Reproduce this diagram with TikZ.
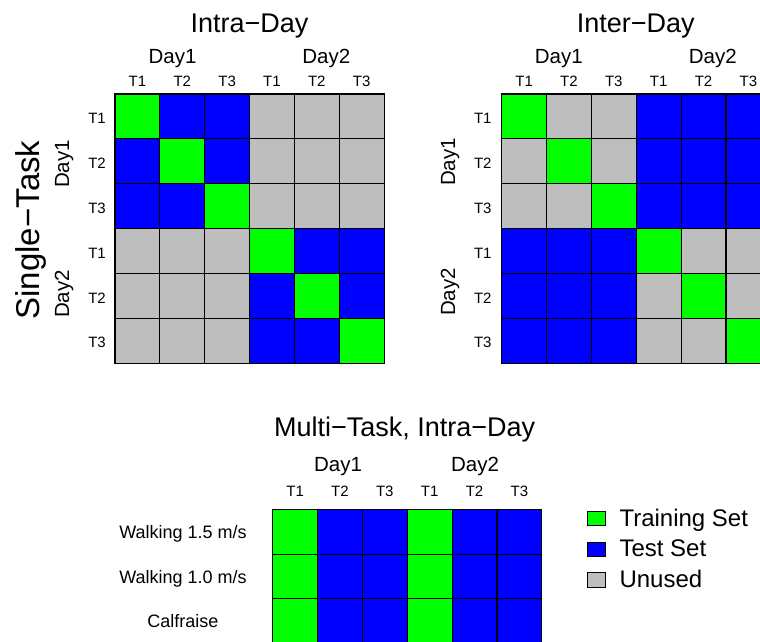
\documentclass[tikz,border=0pt]{standalone}
\usepackage{fontspec}
\setmainfont{Liberation Sans}
\definecolor{trn}{RGB}{0,255,0}
\definecolor{tst}{RGB}{0,0,255}
\definecolor{unu}{RGB}{190,190,190}
\newcommand{\fsz}[1]{\fontsize{#1}{#1}\selectfont}
\tikzset{
  cell/.style={draw=black, line width=1.1pt, minimum width=44.85pt, minimum height=44.9pt,
    inner sep=0pt, outer sep=0pt, anchor=north west},
  ttl/.style={font=\fsz{27}, anchor=base, inner sep=0pt},
  dayl/.style={font=\fsz{20.5}, anchor=base, inner sep=0pt},
  tl/.style={font=\fsz{15}, inner sep=0pt},
  bigl/.style={font=\fsz{33}, anchor=base, rotate=90, inner sep=0pt},
  taskl/.style={font=\fsz{18}, anchor=base, inner sep=0pt},
  legbox/.style={draw=black, line width=0.9pt, minimum width=18pt, minimum height=14.5pt,
    inner sep=0pt, anchor=north west},
  legl/.style={font=\fsz{24}, anchor=base west, inner sep=0pt},
}
\begin{document}
\begin{tikzpicture}[x=1pt,y=-1pt]
\useasboundingbox (0,0) rectangle (760,641);
\clip (0,0) rectangle (760,641);
% ---------- Intra-Day ----------
\foreach \rowc [count=\r] in {{trn,tst,tst,unu,unu,unu},{tst,trn,tst,unu,unu,unu},{tst,tst,trn,unu,unu,unu},
  {unu,unu,unu,trn,tst,tst},{unu,unu,unu,tst,trn,tst},{unu,unu,unu,tst,tst,trn}}{
  \foreach \c [count=\k] in \rowc {
    \node[cell, fill=\c] (A-\r-\k) at ({115+(\k-1)*44.85},{94+(\r-1)*44.9}) {};
  }
}
\node[ttl] (Atitle) at (249.5,32.5) {Intra−Day};
\node[dayl] (Ad1) at (172.5,63.3) {Day1};
\node[dayl] (Ad2) at (326.3,63.3) {Day2};
\foreach \t [count=\k] in {T1,T2,T3,T1,T2,T3}{
  \node[tl, anchor=base] (Ac-\k) at ({115+(\k-0.5)*44.85},86) {\t};
  \node[tl, anchor=base east] (Ar-\k) at (106,{94+(\k-0.5)*44.9+7}) {\t};
}
\node[bigl] (single) at (39,230) {Single−Task};
\node[dayl, rotate=90] (Ard1) at (69,164) {Day1};
\node[dayl, rotate=90] (Ard2) at (69,294) {Day2};
% ---------- Inter-Day ----------
\foreach \rowc [count=\r] in {{trn,unu,unu,tst,tst,tst},{unu,trn,unu,tst,tst,tst},{unu,unu,trn,tst,tst,tst},
  {tst,tst,tst,trn,unu,unu},{tst,tst,tst,unu,trn,unu},{tst,tst,tst,unu,unu,trn}}{
  \foreach \c [count=\k] in \rowc {
    \node[cell, fill=\c] (B-\r-\k) at ({501.7+(\k-1)*44.85},{94+(\r-1)*44.9}) {};
  }
}
\node[ttl] (Btitle) at (635.8,32.5) {Inter−Day};
\node[dayl] (Bd1) at (558.8,63.3) {Day1};
\node[dayl] (Bd2) at (712.8,63.3) {Day2};
\foreach \t [count=\k] in {T1,T2,T3,T1,T2,T3}{
  \node[tl, anchor=base] (Bc-\k) at ({501.7+(\k-0.5)*44.85},86) {\t};
  \node[tl, anchor=base east] (Br-\k) at (491.7,{94+(\k-0.5)*44.9+7}) {\t};
}
\node[dayl, rotate=90] (Brd1) at (455,162) {Day1};
\node[dayl, rotate=90] (Brd2) at (455,292) {Day2};
% ---------- Multi-Task ----------
\foreach \r in {1,2,3}{
  \foreach \c [count=\k] in {trn,tst,tst,trn,tst,tst} {
    \node[cell, fill=\c] (C-\r-\k) at ({272.7+(\k-1)*44.85},{509.3+(\r-1)*44.8}) {};
  }
}
\node[ttl] (Ctitle) at (404.7,436) {Multi−Task, Intra−Day};
\node[dayl] (Cd1) at (338,471.7) {Day1};
\node[dayl] (Cd2) at (475,471.7) {Day2};
\foreach \t [count=\k] in {T1,T2,T3,T1,T2,T3}{
  \node[tl, anchor=base] (Cc-\k) at ({272.7+(\k-0.5)*44.85},496.7) {\t};
}
\node[taskl] (Cr1) at (183,538.3) {Walking 1.5 m/s};
\node[taskl] (Cr2) at (183,583.1) {Walking 1.0 m/s};
\node[taskl] (Cr3) at (183,627.9) {Calfraise};
% ---------- Legend ----------
\node[legbox, fill=trn] (L1) at (586.7,510.7) {};
\node[legbox, fill=tst] (L2) at (586.7,541.5) {};
\node[legbox, fill=unu] (L3) at (586.7,572) {};
\node[legl] (L1t) at (619.3,526) {Training Set};
\node[legl] (L2t) at (619.3,556.7) {Test Set};
\node[legl] (L3t) at (619.3,587.3) {Unused};
\end{tikzpicture}
\end{document}
